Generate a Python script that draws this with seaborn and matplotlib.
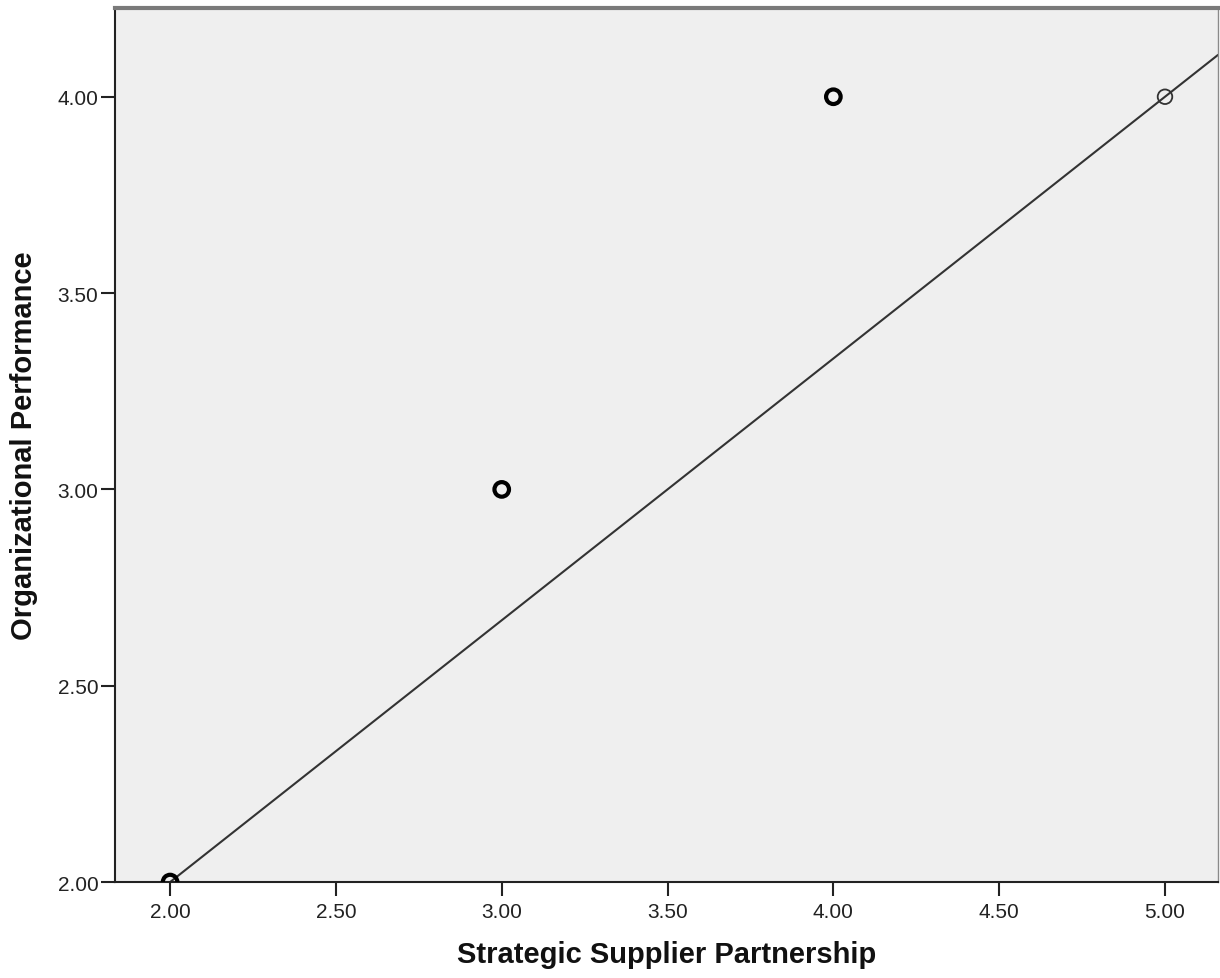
import matplotlib
matplotlib.use("Agg")
import matplotlib.pyplot as plt
import seaborn as sns
import numpy as np
import pandas as pd

# Observed responses (repeated answers drawn with a heavier outline)
ssp = [2.0, 3.0, 4.0, 5.0]
perf = [2.0, 3.0, 4.0, 4.0]
cases = [2, 3, 3, 1]

# Fit line parameters
fit_slope = 2.0 / 3.0
fit_intercept = 2.0 / 3.0

x_ticks = [2.00, 2.50, 3.00, 3.50, 4.00, 4.50, 5.00]
y_ticks = [2.00, 2.50, 3.00, 3.50, 4.00]

df = pd.DataFrame({"ssp": ssp, "perf": perf, "cases": cases})

sns.set_style("ticks")
plt.rcParams["font.family"] = ["Liberation Sans", "DejaVu Sans"]

fig = plt.figure(figsize=(12.2, 9.79), dpi=100)
ax = fig.add_axes([0.0943, 0.098, 0.9041, 0.8928])
ax.set_facecolor("#efefef")

xlim = (1.834, 5.16)
ylim = (2.0, 4.226)

# regression line across the full x range
xs = np.array(xlim)
sns.lineplot(x=xs, y=fit_intercept + fit_slope * xs, ax=ax, color="#333333",
             linewidth=1.5, zorder=2)

single = df[df["cases"] == 1]
multi = df[df["cases"] > 1]
sns.scatterplot(data=single, x="ssp", y="perf", ax=ax, s=110, marker="o",
                facecolors="none", edgecolor="#333333", linewidth=1.3,
                zorder=3)
sns.scatterplot(data=multi, x="ssp", y="perf", ax=ax, s=110, marker="o",
                facecolors="none", edgecolor="black", linewidth=3.0,
                zorder=3)

ax.set_xlim(*xlim)
ax.set_ylim(*ylim)
ax.set_xticks(x_ticks)
ax.set_yticks(y_ticks)
ax.set_xticklabels([f"{v:.2f}" for v in x_ticks])
ax.set_yticklabels([f"{v:.2f}" for v in y_ticks])
ax.tick_params(axis="both", labelsize=15, length=10, width=1.5,
               color="#222222", labelcolor="#222222")
ax.tick_params(axis="x", pad=4)
ax.tick_params(axis="y", pad=2)

for side in ("left", "bottom"):
    ax.spines[side].set_color("#222222")
    ax.spines[side].set_linewidth(1.5)
ax.spines["top"].set_visible(True)
ax.spines["top"].set_color("#7a7a7a")
ax.spines["top"].set_linewidth(3)
ax.spines["right"].set_visible(True)
ax.spines["right"].set_color("#8a8a8a")
ax.spines["right"].set_linewidth(1)

ax.set_xlabel("Strategic Supplier Partnership", fontsize=21,
              fontweight="bold", labelpad=14, color="#111111")
ax.set_ylabel("Organizational Performance", fontsize=21,
              fontweight="bold", labelpad=14, color="#111111")

fig.savefig("out.png", dpi=100)
